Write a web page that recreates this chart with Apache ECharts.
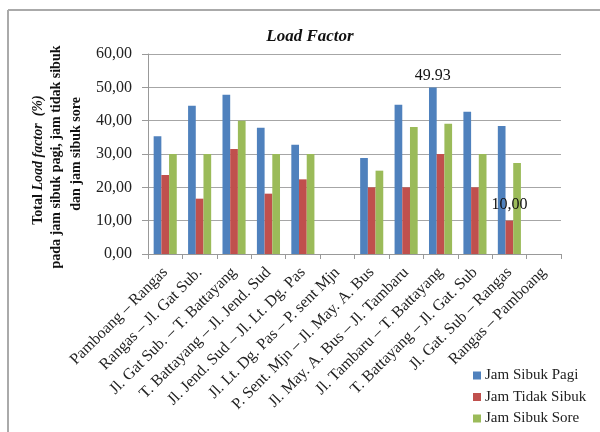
<!DOCTYPE html>
<html>
<head>
<meta charset="utf-8">
<script src="https://cdn.jsdelivr.net/npm/echarts@6/dist/echarts.min.js"></script>
<style>html,body{margin:0;padding:0;background:#fff}#c{width:600px;height:432px}</style>
</head>
<body>
<div id="c"></div>
<script>
const categories = [
  "Pamboang – Rangas", "Rangas – Jl. Gat Sub.", "Jl. Gat Sub. – T. Battayang",
  "T. Battayang – Jl. Jend. Sud", "Jl. Jend. Sud – Jl. Lt. Dg. Pas", "Jl. Lt. Dg. Pas – P. sent Mjn",
  "P. Sent. Mjn – Jl. May. A. Bus", "Jl. May. A. Bus – Jl. Tambaru", "Jl. Tambaru – T. Battayang",
  "T. Battayang – Jl. Gat. Sub", "Jl. Gat. Sub – Rangas", "Rangas – Pamboang"
];
const seriesNames = ["Jam Sibuk Pagi", "Jam Tidak Sibuk", "Jam Sibuk Sore"];
const jamSibukPagi  = [35.3, 44.5, 47.8, 37.9, 32.8, null, 28.8, 44.8, 49.93, 42.7, 38.4, null];
const jamTidakSibuk = [23.7, 16.6, 31.5, 18.1, 22.4, null, 20.0, 20.0, 30.0, 20.0, 10.0, null];
const jamSibukSore  = [30.0, 30.0, 40.0, 30.0, 30.0, null, 25.0, 38.1, 39.1, 30.0, 27.3, null];
const yTicks = [0, 10, 20, 30, 40, 50, 60];
// value labels shown in the chart: [series index, category index, text]
const valueLabels = [[0, 8, "49.93"], [1, 10, "10,00"]];

const colors = ["#4F81BD", "#C0504D", "#9BBB59"];
const serif = "'Liberation Serif', 'DejaVu Serif', serif";

function buildData(arr, si) {
  return arr.map((v, i) => {
    const lab = valueLabels.find(l => l[0] === si && l[1] === i);
    if (v === null) return '-';
    if (lab) {
      return { value: v, label: { show: true, position: 'top', distance: si === 1 ? 8 : 4,
        formatter: lab[2], fontFamily: serif, fontSize: 16, color: '#111' } };
    }
    return v;
  });
}

const chart = echarts.init(document.getElementById('c'), null, { renderer: 'canvas' });
chart.setOption({
  animation: false,
  color: colors,
  title: {
    text: 'Load Factor', left: 305, top: 23, textAlign: 'center',
    textStyle: { fontFamily: serif, fontSize: 17, fontWeight: 'bold', fontStyle: 'italic', color: '#111' }
  },
  legend: {
    orient: 'vertical', left: 473, top: 368, padding: 0, itemWidth: 8, itemHeight: 8, itemGap: 6.5,
    icon: 'rect', data: seriesNames,
    textStyle: { fontFamily: serif, fontSize: 15, color: '#222', padding: [0, 0, 0, -1] }
  },
  grid: { left: 148, right: 39, top: 54, bottom: 178, containLabel: false },
  xAxis: {
    type: 'category', data: categories,
    axisLine: { lineStyle: { color: '#999', width: 1 } },
    axisTick: { show: true, alignWithLabel: false, length: 5, lineStyle: { color: '#999' } },
    axisLabel: { rotate: 45, interval: 0, margin: 16, fontFamily: serif, fontSize: 16, color: '#222' }
  },
  yAxis: {
    type: 'value', min: 0, max: 60, interval: 10,
    axisLine: { show: true, lineStyle: { color: '#999', width: 1 } },
    axisTick: { show: true, length: 6, inside: false, lineStyle: { color: '#999' } },
    splitLine: { lineStyle: { color: '#a6a6a6', width: 1 } },
    axisLabel: { margin: 16, fontFamily: serif, fontSize: 16, color: '#222',
      formatter: v => yTicks.includes(v) ? v.toFixed(2).replace('.', ',') : '' }
  },
  series: [jamSibukPagi, jamTidakSibuk, jamSibukSore].map((arr, si) => ({
    type: 'bar', name: seriesNames[si], data: buildData(arr, si),
    barWidth: 7.7, barGap: '0%', z: 2
  })),
  graphic: [
    { type: 'line', shape: { x1: 8, y1: 10, x2: 600, y2: 10 }, style: { stroke: '#aaa', lineWidth: 2 } },
    { type: 'line', shape: { x1: 8, y1: 10, x2: 8, y2: 432 }, style: { stroke: '#aaa', lineWidth: 2 } },
    { type: 'text', x: 38, y: 160, rotation: Math.PI / 2,
      style: { text: '{a|Total }{b|Load factor  (%)}', align: 'center', verticalAlign: 'middle',
        rich: {
          a: { fontFamily: serif, fontSize: 14, fontWeight: 'bold', fill: '#111' },
          b: { fontFamily: serif, fontSize: 14, fontWeight: 'bold', fontStyle: 'italic', fill: '#111' }
        } } },
    { type: 'text', x: 56, y: 157, rotation: Math.PI / 2,
      style: { text: 'pada jam sibuk pagi, jam tidak sibuk', align: 'center', verticalAlign: 'middle',
        fontFamily: serif, fontSize: 14, fontWeight: 'bold', fill: '#111' } },
    { type: 'text', x: 76, y: 154, rotation: Math.PI / 2,
      style: { text: 'dan jam sibuk sore', align: 'center', verticalAlign: 'middle',
        fontFamily: serif, fontSize: 14, fontWeight: 'bold', fill: '#111' } }
  ]
});
</script>
</body>
</html>
